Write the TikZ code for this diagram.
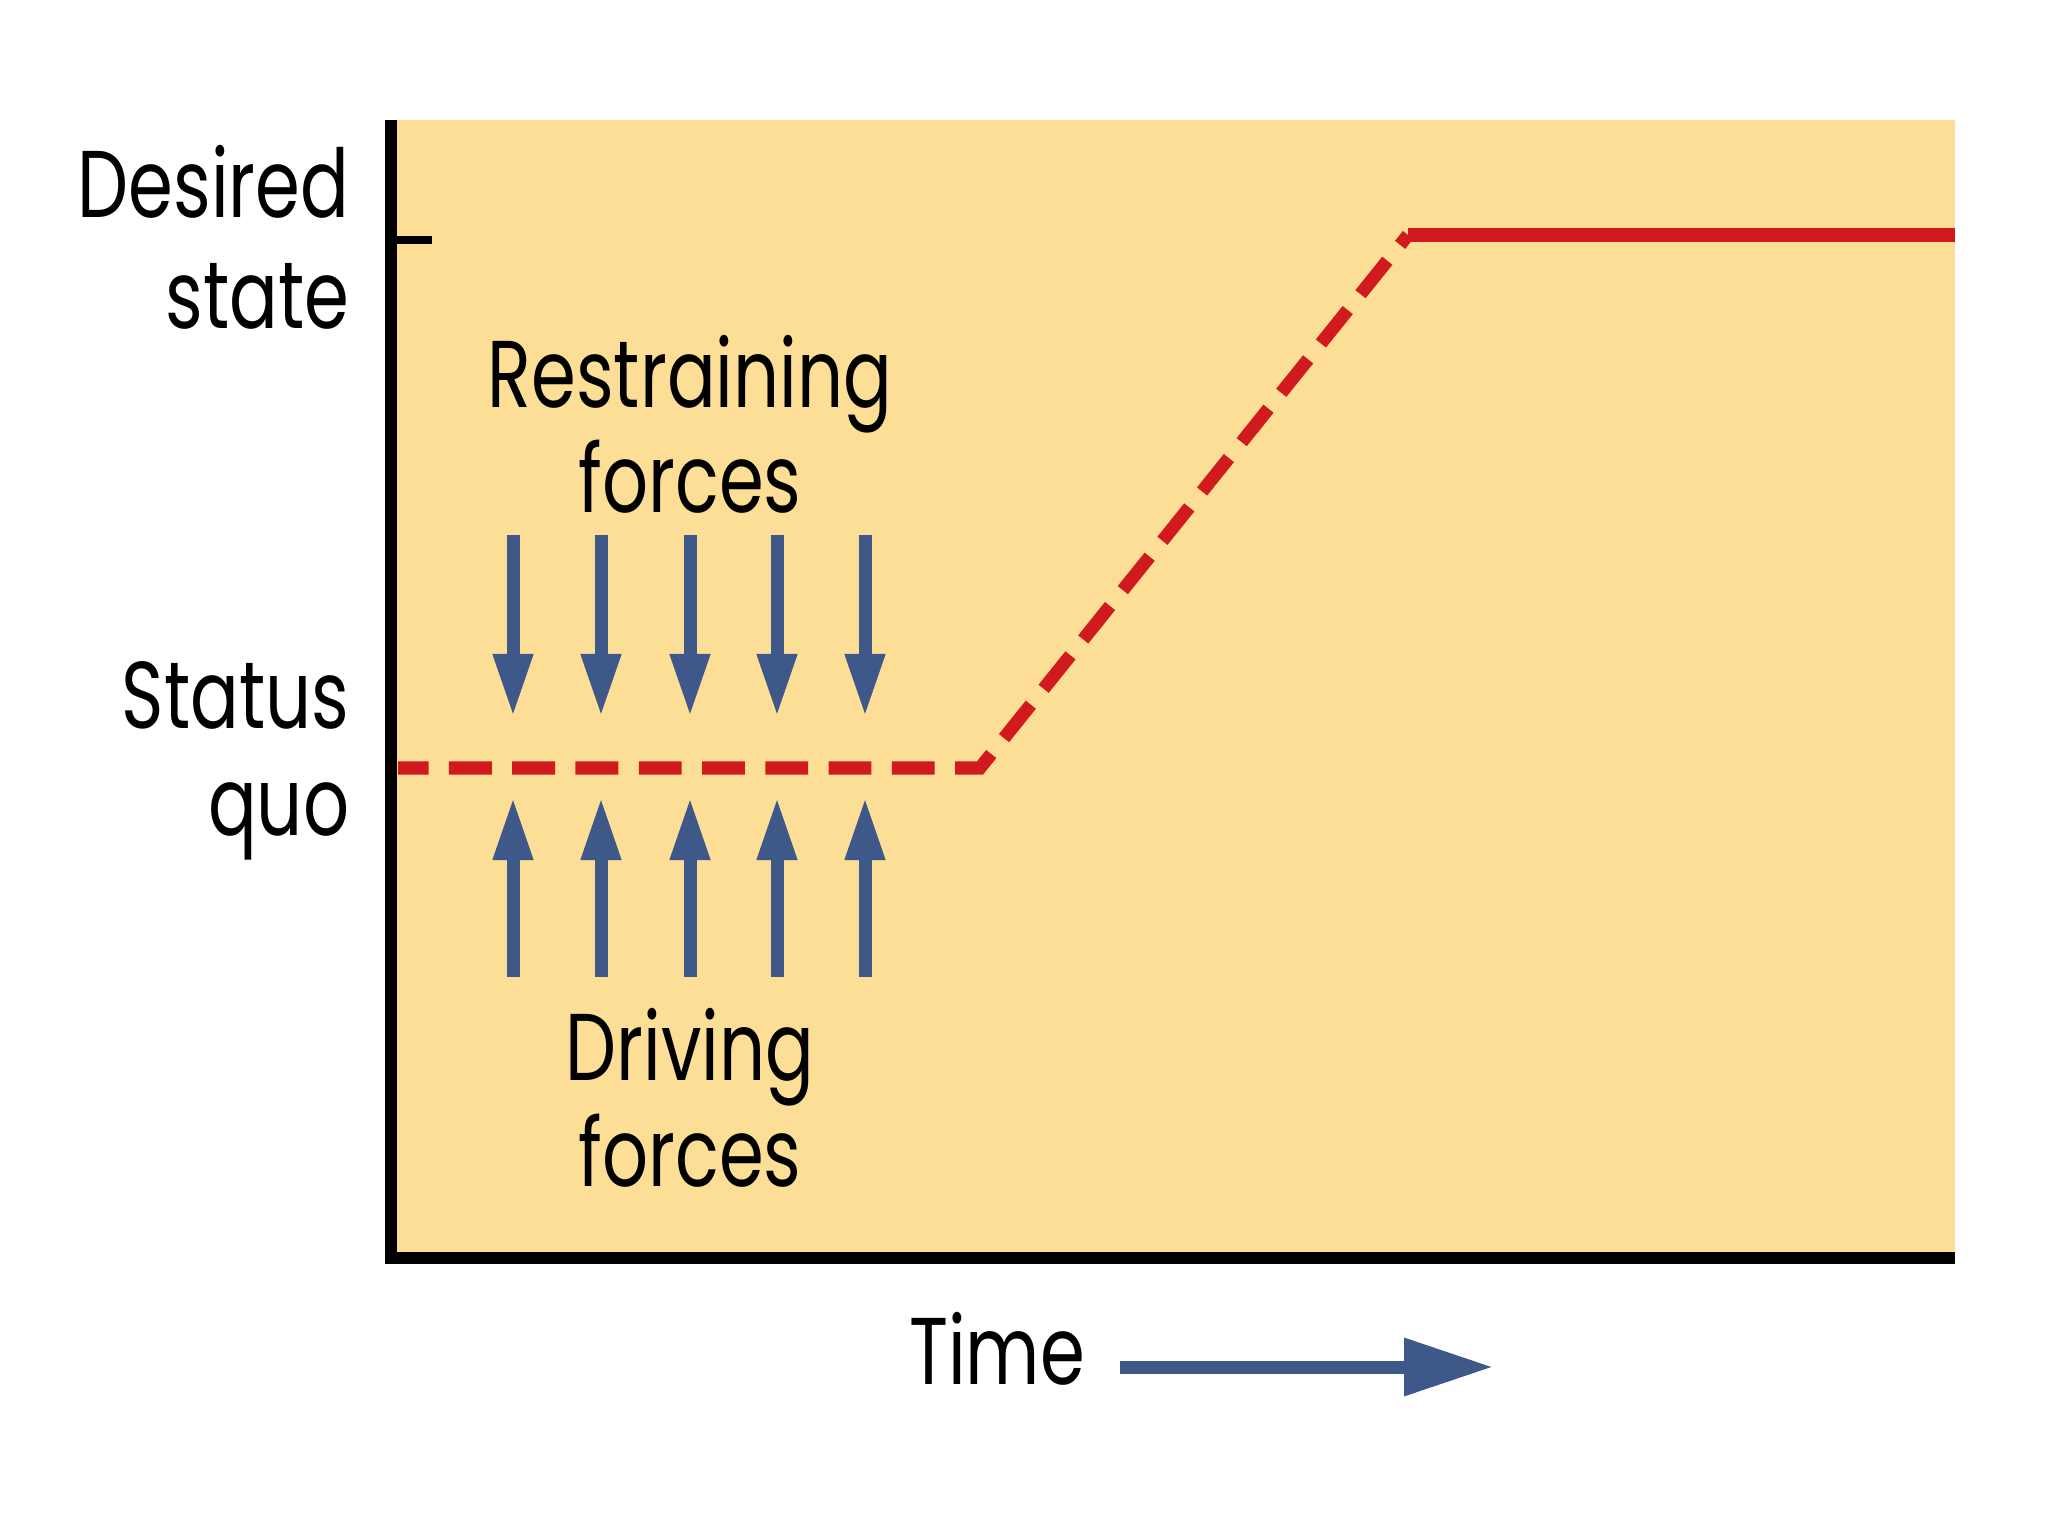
\documentclass[tikz,border=0pt]{standalone}
\usepackage{fontspec}
\setmainfont{Poppins}[FakeStretch=0.76]
\usepackage{tikz}
\usetikzlibrary{arrows.meta}

\definecolor{paper}{RGB}{252,222,150}
\definecolor{linered}{RGB}{208,26,30}
\definecolor{forceblue}{RGB}{62,88,138}

\begin{document}
\begin{tikzpicture}

	\tikzset{force arrow/.style={forceblue, line width=3.7pt, -{Triangle[length=0.63cm, width=0.37cm]}}}
	\tikzset{axis line/.style={black, line width=3.4pt}}
	\tikzset{label text/.style={font=\fontsize{27}{31}\selectfont, inner sep=0pt}}

	\useasboundingbox[fill=white] (0,0) rectangle (20.48,-15.36);

	% plot area
	\fill[paper] (3.92,-1.20) rectangle (19.55,-12.58);

	% axes
	\coordinate (origin) at (3.91,-12.58);
	\coordinate (ytop) at (3.91,-1.20);
	\coordinate (xend) at (19.55,-12.58);
	\draw[axis line] (ytop) -- (origin) -- (xend);

	% desired state tick
	\coordinate (tick) at (3.91,-2.40);
	\coordinate (tickend) at (4.32,-2.40);
	\draw[black, line width=2.3pt] (tick) -- (tickend);

	% level labels
	\node[label text, anchor=base east] (desired) at (3.50,-2.18) {Desired};
	\node[label text, anchor=base east] (state) at (3.50,-3.29) {state};
	\node[label text, anchor=base east] (status) at (3.50,-7.29) {Status};
	\node[label text, anchor=base east] (quo) at (3.50,-8.36) {quo};

	% status quo and desired state line
	\coordinate (sqstart) at (3.98,-7.68);
	\coordinate (sqend) at (9.80,-7.68);
	\coordinate (dsstart) at (14.08,-2.35);
	\coordinate (dsend) at (19.55,-2.35);
	\draw[linered, line width=3.7pt, dash pattern=on 12.2pt off 5.8pt, dash phase=3.5pt] (sqstart) -- (sqend) -- (dsstart);
	\draw[linered, line width=3.7pt] (dsstart) -- (dsend);

	% restraining forces
	\node[label text, anchor=base] (restr) at (6.90,-4.07) {Restraining};
	\node[label text, anchor=base] (restrf) at (6.90,-5.13) {forces};
	\foreach \x [count=\i] in {5.13,6.01,6.90,7.77,8.65} {
		\coordinate (rtop\i) at (\x,-5.35);
		\coordinate (rtip\i) at (\x,-7.17);
		\draw[force arrow] (rtop\i) -- (rtip\i);
	}

	% driving forces
	\foreach \x [count=\i] in {5.13,6.01,6.90,7.77,8.65} {
		\coordinate (dbot\i) at (\x,-9.77);
		\coordinate (dtip\i) at (\x,-7.97);
		\draw[force arrow] (dbot\i) -- (dtip\i);
	}
	\node[label text, anchor=base] (drive) at (6.90,-10.80) {Driving};
	\node[label text, anchor=base] (drivef) at (6.90,-11.86) {forces};

	% time axis
	\node[label text, anchor=base] (time) at (9.97,-13.84) {Time};
	\coordinate (tstart) at (11.20,-13.67);
	\coordinate (tend) at (14.93,-13.67);
	\draw[forceblue, line width=3.7pt, -{Triangle[length=0.89cm, width=0.55cm]}] (tstart) -- (tend);

\end{tikzpicture}
\end{document}
